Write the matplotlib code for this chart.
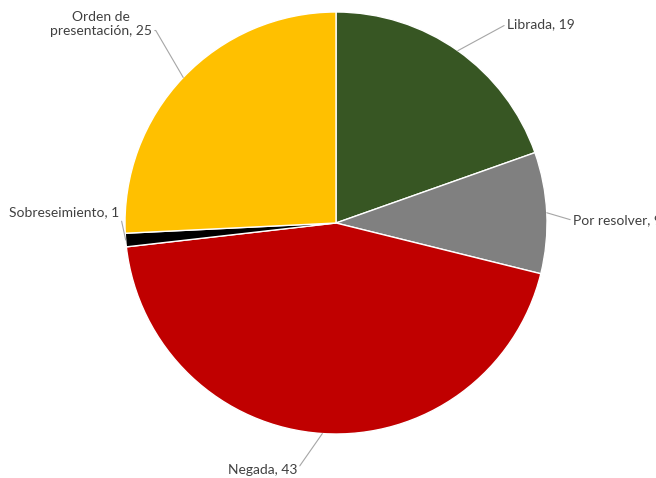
import numpy as np
import matplotlib as mpl
from matplotlib import pyplot as plt

plt.rcParams['font.family'] = ['Lato', 'DejaVu Sans']

labels = ['Librada', 'Por resolver', 'Negada', 'Sobreseimiento', 'Orden de\npresentación']
values = [19, 9, 43, 1, 25]
colors = ['#375623', '#808080', '#C00000', '#000000', '#FFC000']

# label layout (data units, radius = 1), horizontal alignment, relpos of leader on text
label_pos = [(0.81, 0.943), (1.123, 0.012), (-0.185, -1.17), (-1.025, 0.05), (-0.872, 0.943)]
label_ha = ['left', 'left', 'right', 'right', 'right']
label_rel = [(0, 0.5), (0, 0.5), (1, 0.5), (1, 0.5), (1, 0.25)]

fig = plt.figure(figsize=(6.56, 4.78), dpi=100)
ax = fig.add_axes([0, 0, 1, 1])

wedges, _ = ax.pie(values, colors=colors, startangle=90, counterclock=False,
                   wedgeprops=dict(edgecolor='white', linewidth=1.0))

r_px = 211
cx, cy = 336, 223
ax.set_xlim(-cx / r_px, (656 - cx) / r_px)
ax.set_ylim(-(478 - cy) / r_px, cy / r_px)
ax.set_aspect('equal')
ax.axis('off')

for w, lab, val, pos, ha, rel in zip(wedges, labels, values, label_pos, label_ha, label_rel):
    ang = np.deg2rad((w.theta1 + w.theta2) / 2)
    edge = (np.cos(ang), np.sin(ang))
    # direction of the slanted part of the leader
    dx = pos[0] - edge[0]
    dy = pos[1] - edge[1]
    slope = np.degrees(np.arctan2(dy, dx))
    ax.annotate(f'{lab}, {val}', xy=edge, xytext=pos, ha=ha, va='center',
                multialignment='center', fontsize=10, color='#404040',
                arrowprops=dict(arrowstyle='-', color='#a6a6a6', lw=0.8,
                                shrinkA=0, shrinkB=0, relpos=rel,
                                connectionstyle=f'angle,angleA=0,angleB={slope},rad=0'))

fig.savefig('out.png', dpi=100)
